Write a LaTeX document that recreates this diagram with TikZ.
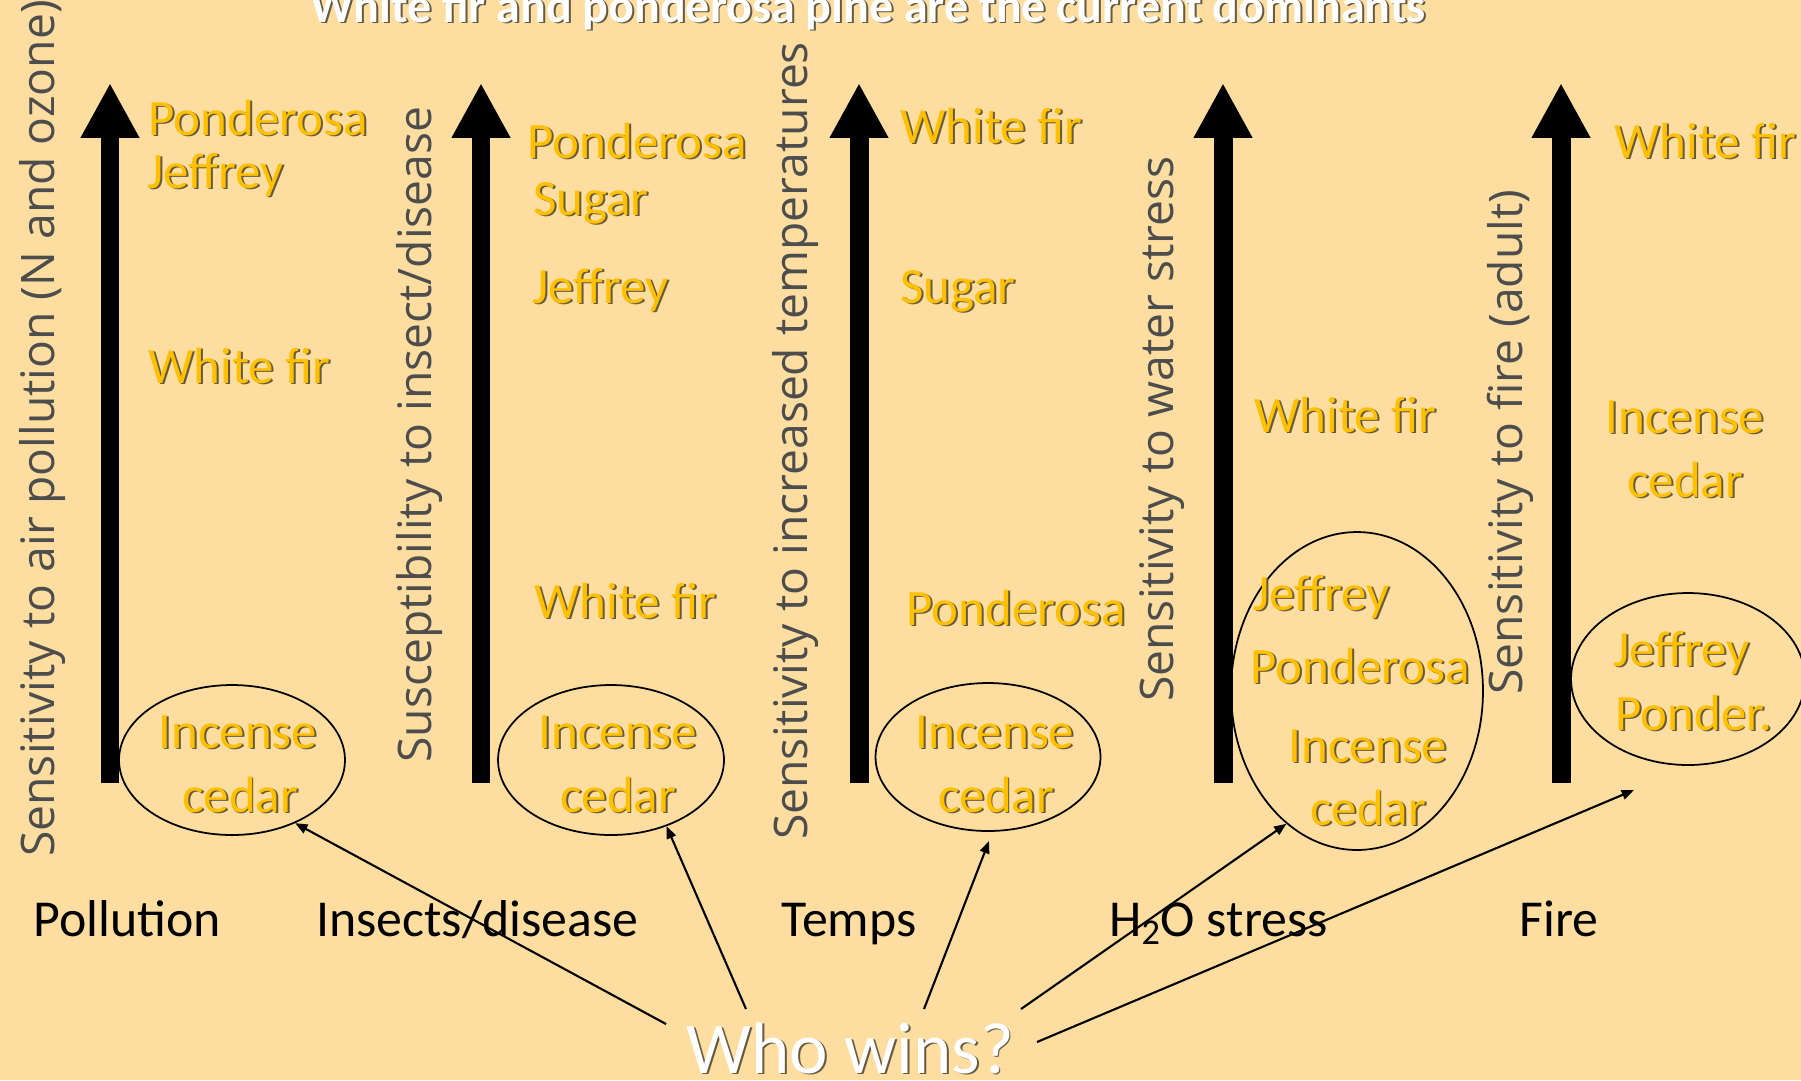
\documentclass[tikz,border=0pt]{standalone}
\usepackage{fontspec}
\setmainfont{Carlito}
\newfontfamily\axisfont{Open Sans}
\usetikzlibrary{arrows.meta, shapes.geometric}

\definecolor{sand}{HTML}{FDDEA0}
\definecolor{gold}{HTML}{FFC000}
\definecolor{axisgray}{HTML}{4D4D4D}
\colorlet{shade}{black!60!sand}
% text with a small drop shadow
\newcommand{\shd}[1]{\leavevmode\rlap{\kern1.1pt\raisebox{-1.1pt}{\color{shade}#1}}#1}

\begin{document}
\begin{tikzpicture}[
    x=0.02cm, y=-0.02cm,
    species/.style={text=gold, font=\fontsize{29}{35}\selectfont,
                    inner sep=0pt, anchor=base west},
    centred/.style={species, anchor=base},
    axlabel/.style={text=axisgray, font=\axisfont\fontsize{26.3}{31}\selectfont,
                    rotate=90, inner sep=0pt, anchor=base west},
    factor/.style={font=\fontsize{29.5}{35}\selectfont, inner sep=0pt,
                   anchor=base west},
    axisarrow/.style={line width=10.8pt,
                      -{Triangle[length=31.2pt, width=31.2pt]}},
    ring/.style={draw, ellipse, line width=1pt, inner sep=0pt},
    pointer/.style={line width=1.2pt, -{Triangle[length=7pt, width=5.5pt]}}
  ]
  \useasboundingbox (0,0) rectangle (1801,1080);
  \clip (0,0) rectangle (1801,1080);
  \fill[sand] (0,0) rectangle (1801,1080);

  \node[text=white, font=\bfseries\fontsize{27.3}{32}\selectfont,
        inner sep=0pt, anchor=base] (title) at (868,22)
    {\shd{White fir and ponderosa pine are the current dominants}};

  % axes
  \coordinate (low1) at (110,783);  \coordinate (top1) at (110,83);
  \coordinate (low2) at (481,783);  \coordinate (top2) at (481,83);
  \coordinate (low3) at (859,783);  \coordinate (top3) at (859,83);
  \coordinate (low4) at (1223,783); \coordinate (top4) at (1223,83);
  \coordinate (low5) at (1561,783); \coordinate (top5) at (1561,83);
  \draw[axisarrow] (low1) -- (top1);
  \draw[axisarrow] (low2) -- (top2);
  \draw[axisarrow] (low3) -- (top3);
  \draw[axisarrow] (low4) -- (top4);
  \draw[axisarrow] (low5) -- (top5);

  \node[axlabel] (lab1) at (54,857) {Sensitivity to air pollution (N and ozone)};
  \node[axlabel] (lab2) at (431,763) {Susceptibility to insect/disease};
  \node[axlabel] (lab3) at (807,840) {Sensitivity to increased temperatures};
  \node[axlabel] (lab4) at (1173,702) {Sensitivity to water stress};
  \node[axlabel] (lab5) at (1522,695) {Sensitivity to fire (adult)};

  % circled winners
  \node[ring, minimum width=4.52cm, minimum height=3.0cm] (e1) at (232,760) {};
  \node[ring, minimum width=4.52cm, minimum height=3.0cm] (e2) at (611,760) {};
  \node[ring, minimum width=4.5cm, minimum height=2.96cm] (e3) at (988,757) {};
  \node[ring, minimum width=5.04cm, minimum height=6.36cm] (e4) at (1357,691) {};
  \node[ring, minimum width=4.68cm, minimum height=3.44cm] (e5) at (1688,679) {};

  % pollution
  \node[species] (pond1) at (148,135) {\shd{Ponderosa}};
  \node[species] (jeff1) at (147,188) {\shd{Jeffrey}};
  \node[species] (fir1) at (148,383) {\shd{White fir}};
  \node[centred] (inc1) at (238,748) {\shd{Incense}};
  \node[centred] (ced1) at (240,812) {\shd{cedar}};

  % insects
  \node[species] (pond2) at (527,158) {\shd{Ponderosa}};
  \node[species] (sug2) at (533,215) {\shd{Sugar}};
  \node[species] (jeff2) at (532,303) {\shd{Jeffrey}};
  \node[species] (fir2) at (534,618) {\shd{White fir}};
  \node[centred] (inc2) at (618,748) {\shd{Incense}};
  \node[centred] (ced2) at (618,812) {\shd{cedar}};

  % temps
  \node[species] (fir3) at (900,143) {\shd{White fir}};
  \node[species] (sug3) at (900,303) {\shd{Sugar}};
  \node[species] (pond3) at (906,625) {\shd{Ponderosa}};
  \node[centred] (inc3) at (995,748) {\shd{Incense}};
  \node[centred] (ced3) at (996,812) {\shd{cedar}};

  % water
  \node[species] (fir4) at (1254,432) {\shd{White fir}};
  \node[species] (jeff4) at (1253,610) {\shd{Jeffrey}};
  \node[species] (pond4) at (1250,683) {\shd{Ponderosa}};
  \node[centred] (inc4) at (1368,762) {\shd{Incense}};
  \node[centred] (ced4) at (1368,825) {\shd{cedar}};

  % fire
  \node[species] (fir5) at (1614,158) {\shd{White fir}};
  \node[centred] (inc5) at (1685,433) {\shd{Incense}};
  \node[centred] (ced5) at (1685,497) {\shd{cedar}};
  \node[species] (jeff5) at (1613,666) {\shd{Jeffrey}};
  \node[species] (pond5) at (1615,730) {\shd{Ponder.}};

  \node[factor] (poll) at (33,936) {Pollution};
  \node[factor] (ins) at (316,936) {Insects/disease};
  \node[factor] (temp) at (781,936) {Temps};
  \node[factor] (water) at (1109,936) {H\textsubscript{2}O stress};
  \node[factor] (fire) at (1519,936) {Fire};

  \node[text=white, font=\fontsize{41.5}{48}\selectfont, inner sep=0pt,
        anchor=base west] (who) at (686,1073) {\shd{Who wins?}};

  \coordinate (fromA) at (666,1024);
  \coordinate (fromB) at (746,1009);
  \coordinate (fromC) at (924,1009);
  \coordinate (fromD) at (1021,1009);
  \coordinate (fromE) at (1037,1042);
  \coordinate (tipC) at (989,841);
  \coordinate (tipE) at (1634,790);
  \draw[pointer] (fromA) -- (e1.-45);
  \draw[pointer] (fromB) -- (e2.-50);
  \draw[pointer] (fromC) -- (tipC);
  \draw[pointer] (fromD) -- (e4.-118);
  \draw[pointer] (fromE) -- (tipE);
\end{tikzpicture}
\end{document}
